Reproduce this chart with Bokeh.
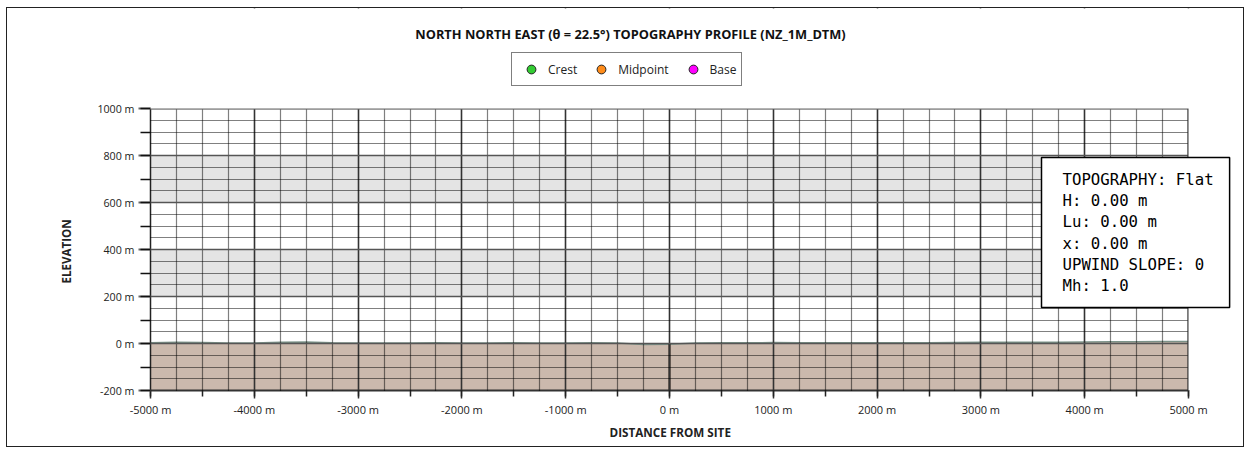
from bokeh.plotting import figure
from bokeh.models import (Range1d, SingleIntervalTicker, PrintfTickFormatter, Label,
                          Legend, LegendItem, Grid, BoxAnnotation, Title)
from bokeh.embed import file_html
from bokeh.resources import INLINE

# ---------------- data ----------------
title_text = "NORTH NORTH EAST (\u03b8 = 22.5\u00b0) TOPOGRAPHY PROFILE (NZ_1M_DTM)"
x_label = "DISTANCE FROM SITE"
y_label = "ELEVATION"

profile_x = [-5000, -4750, -4500, -4250, -4000, -3750, -3500, -3250, -3000, -2750,
             -2500, -2250, -2000, -1750, -1500, -1250, -1000, -750, -500, -250,
             0, 250, 500, 750, 1000, 1250, 1500, 1750, 2000, 2250,
             2500, 2750, 3000, 3250, 3500, 3750, 4000, 4250, 4500, 4750, 5000]
profile_elev = [3, 5, 4, 2, 2, 5, 6, 3, 2, 2,
                2, 3, 2, 2, 3, 2, 2, 3, 2, -4,
                -3, 2, 3, 3, 4, 3, 3, 3, 3, 3,
                3, 4, 5, 5, 5, 5, 6, 7, 7, 8, 8]
profile_base = [-200] * len(profile_x)

band_lo = [200, 600]
band_hi = [400, 800]

site_x = [0]
site_y0 = [-200]
site_y1 = [0]

# flat topography: no crest / midpoint / base points exist
legend_names = ["Crest", "Midpoint", "Base"]
legend_colors = ["#33cc33", "#ff8c1a", "#ff00ff"]
point_x = [float("nan")]
point_y = [float("nan")]

info_lines = ["TOPOGRAPHY: Flat", "H: 0.00 m", "Lu: 0.00 m", "x: 0.00 m",
              "UPWIND SLOPE: 0", "Mh: 1.0"]

x_min, x_max = -5000, 5000
y_min, y_max = -200, 1000

# ---------------- geometry (page pixels) ----------------
CANVAS_X0, CANVAS_Y0 = 7, 8
FRAME_L, FRAME_B = 150, 390
DATA_R, DATA_T = 1188, 108     # where x_max / y_max sit
W, H = 1238, 440
FRAME_R = CANVAS_X0 + W
FRAME_T = CANVAS_Y0
x_end = x_min + (FRAME_R - FRAME_L) * (x_max - x_min) / (DATA_R - FRAME_L)
y_end = y_min + (FRAME_B - FRAME_T) * (y_max - y_min) / (FRAME_B - DATA_T)

p = figure(width=W, height=H, output_backend="svg", toolbar_location=None, title=None,
           x_range=Range1d(x_min, x_end), y_range=Range1d(y_min, y_end),
           min_border_left=FRAME_L - CANVAS_X0, min_border_top=0,
           min_border_right=0, min_border_bottom=CANVAS_Y0 + H - FRAME_B,
           background_fill_color="white", border_fill_color="white")
p.styles = {"border": "1px solid #222", "margin-left": "6px", "margin-top": "7px"}
p.outline_line_color = None

for g in list(p.grid):
    g.visible = False

xg = Grid(dimension=0, ticker=SingleIntervalTicker(interval=1000, num_minor_ticks=4),
          grid_line_color="#333333", grid_line_width=1.5,
          minor_grid_line_color="#000000", minor_grid_line_dash="1 1",
          minor_grid_line_width=1.2, minor_grid_line_alpha=1.0, level="guide")
yg = Grid(dimension=1, ticker=SingleIntervalTicker(interval=200, num_minor_ticks=4),
          grid_line_color="#555555", grid_line_width=1.5,
          minor_grid_line_color="#000000", minor_grid_line_dash="1 1",
          minor_grid_line_width=1.2, minor_grid_line_alpha=1.0, level="guide")
p.add_layout(xg)
p.add_layout(yg)

# bands
p.quad(left=[x_min] * len(band_lo), right=[x_max] * len(band_lo),
       bottom=band_lo, top=band_hi, fill_color="#e4e4e4", line_color=None)

# terrain
p.varea(x=profile_x, y1=profile_base, y2=profile_elev, fill_color="#cbb9ad")
p.line(x=profile_x, y=profile_elev, line_color="#708a80", line_width=1.5, line_alpha=0.9)

# site marker
p.segment(x0=site_x, y0=site_y0, x1=site_x, y1=site_y1, line_color="#2a2018", line_width=2)

# white covers outside the data area
p.add_layout(BoxAnnotation(left=x_max, fill_color="white", fill_alpha=1, line_color=None))
p.add_layout(BoxAnnotation(bottom=y_max, fill_color="white", fill_alpha=1, line_color=None))
top_edge = p.segment(x0=[x_min], y0=[y_max], x1=[x_max], y1=[y_max], line_color="#666666",
                     line_width=2)
top_edge.level = "annotation"
right_edge = p.segment(x0=[x_max], y0=[y_min], x1=[x_max], y1=[y_max], line_color="#333333",
                       line_width=2)
right_edge.level = "annotation"

# legend
items = []
for name, col in zip(legend_names, legend_colors):
    r = p.scatter(x=point_x, y=point_y, marker="circle", size=9, fill_color=col,
                  line_color="#222222")
    items.append(LegendItem(label=name, renderers=[r]))
legend = Legend(items=items, orientation="horizontal", location=(511 - FRAME_L, FRAME_B - 86),
                border_line_color="#000000", border_line_width=1,
                label_text_font="Open Sans", label_text_font_size="12px",
                label_text_color="#222222", glyph_width=28, glyph_height=22,
                label_standoff=3, spacing=10, padding=5, margin=0,
                background_fill_color="white", background_fill_alpha=1)
p.add_layout(legend, "center")

# title
title_lbl = Label(x=630 - FRAME_L, y=FRAME_B - 33, x_units="screen", y_units="screen",
                  text=title_text, text_font="Open Sans", text_font_style="bold",
                  text_font_size="12.8px", text_color="#111111",
                  text_align="center", text_baseline="middle")
p.add_layout(title_lbl)

# axes
ax = p.xaxis[0]
ax.bounds = (x_min, x_max)
ax.ticker = SingleIntervalTicker(interval=1000, num_minor_ticks=2)
ax.formatter = PrintfTickFormatter(format="%d m")
ax.major_label_text_font = "Open Sans"
ax.major_label_text_font_size = "11px"
ax.major_label_text_color = "#222222"
ax.major_label_standoff = 3
ax.axis_line_color = "#333333"
ax.axis_line_width = 2
ax.major_tick_line_color = "#333333"
ax.major_tick_line_width = 1.5
ax.major_tick_out = 8
ax.major_tick_in = 0
ax.minor_tick_line_color = "#222222"
ax.minor_tick_line_width = 1.5
ax.minor_tick_out = 6
ax.minor_tick_in = 0

ay = p.yaxis[0]
ay.bounds = (y_min, y_max)
ay.ticker = SingleIntervalTicker(interval=200, num_minor_ticks=2)
ay.formatter = PrintfTickFormatter(format="%d m")
ay.major_label_text_font = "Open Sans"
ay.major_label_text_font_size = "10.7px"
ay.major_label_text_color = "#222222"
ay.major_label_standoff = 4
ay.axis_line_color = "#222222"
ay.axis_line_width = 1.5
ay.major_tick_line_color = "#666666"
ay.major_tick_line_width = 2
ay.major_tick_out = 12
ay.major_tick_in = 0
ay.minor_tick_line_color = "#111111"
ay.minor_tick_line_width = 1.5
ay.minor_tick_out = 10
ay.minor_tick_in = 0

xl = Title(text=x_label, align="left", offset=609 - FRAME_L, text_font="Open Sans",
           text_font_style="bold", text_font_size="11.7px", text_color="#222222",
           standoff=4)
p.add_layout(xl, "below")
yl = Title(text=y_label, align="left", offset=FRAME_B - 283, text_font="Open Sans",
           text_font_style="bold", text_font_size="11.6px", text_color="#222222",
           standoff=42)
p.add_layout(yl, "left")

# info box
info = Label(x=1041 - FRAME_L, y=FRAME_B - 157, x_units="screen", y_units="screen",
             text="\n".join(info_lines), text_font="DejaVu Sans Mono",
             text_font_size="15.7px", text_color="#000000", text_line_height=1.125,
             text_align="left", text_baseline="top",
             background_fill_color="white", border_line_color="#000000",
             border_line_width=1.5, padding=dict(left=21, right=16, top=12, bottom=12))
p.add_layout(info)

open("out.html", "w").write(file_html(p, INLINE))
